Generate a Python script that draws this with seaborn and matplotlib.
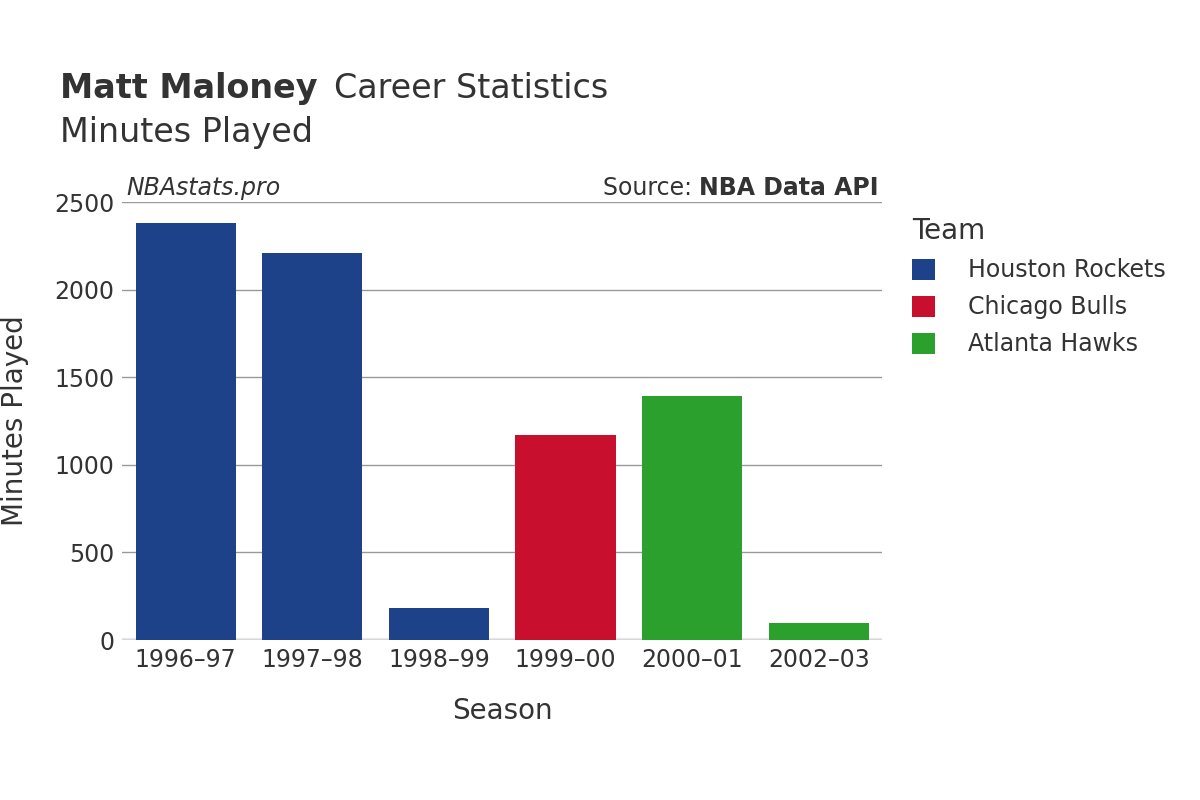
import matplotlib
matplotlib.use("Agg")
import matplotlib.pyplot as plt
import seaborn as sns
import pandas as pd
from matplotlib.patches import Patch

seasons = ["1996–97", "1997–98", "1998–99", "1999–00", "2000–01", "2002–03"]
teams = ["Houston Rockets", "Houston Rockets", "Houston Rockets", "Chicago Bulls", "Atlanta Hawks", "Atlanta Hawks"]
minutes = [2380, 2209, 183, 1170, 1393, 97]
team_order = ["Houston Rockets", "Chicago Bulls", "Atlanta Hawks"]
team_colors = ["#1d428a", "#c8102e", "#2ca02c"]

df = pd.DataFrame({"Season": seasons, "Team": teams, "Minutes": minutes})
palette = dict(zip(team_order, team_colors))

fig = plt.figure(figsize=(12, 8), dpi=100)
ax = fig.add_axes([0.102, 0.2, 0.633, 0.5475])
sns.barplot(data=df, x="Season", y="Minutes", hue="Team", hue_order=team_order,
            palette=palette, dodge=False, width=0.79, ax=ax, legend=False, saturation=1)

ax.set_ylim(0, 2500)
ax.set_yticks([0, 500, 1000, 1500, 2000, 2500])
ax.yaxis.grid(True, color="#999999", linewidth=1)
ax.set_axisbelow(True)
for s in ax.spines.values():
    s.set_visible(False)
ax.axhline(0, color="#e8e8e8", linewidth=3, zorder=0)
ax.tick_params(axis="both", length=0, labelsize=17, colors="#333333", pad=6)
ax.set_xlabel("Season", fontsize=20, color="#333333", labelpad=18)
ax.set_ylabel("Minutes Played", fontsize=20, color="#333333", labelpad=18)

fig.text(0.05, 0.889, "Matt Maloney", fontsize=24, fontweight="bold", color="#333333", va="center")
fig.text(0.278, 0.889, "Career Statistics", fontsize=24, color="#333333", va="center")
fig.text(0.05, 0.834, "Minutes Played", fontsize=24, color="#333333", va="center")
ax.text(0.005, 1.005, "NBAstats.pro", transform=ax.transAxes, fontsize=17, style="italic", color="#333333", va="bottom")
ax.text(0.76, 1.005, "Source: ", transform=ax.transAxes, fontsize=17, color="#333333", va="bottom", ha="right")
ax.text(0.995, 1.005, "NBA Data API", transform=ax.transAxes, fontsize=17, fontweight="bold", color="#333333", va="bottom", ha="right")

handles = [Patch(facecolor=c, label=t) for t, c in zip(team_order, team_colors)]
leg = fig.legend(handles=handles, title="Team", loc="upper left", bbox_to_anchor=(0.742, 0.755),
                 frameon=False, fontsize=17, title_fontsize=20, handlelength=1, handleheight=1,
                 labelspacing=0.55, handletextpad=1.4, labelcolor="#333333")
leg.get_title().set_color("#333333")
leg._legend_box.align = "left"

fig.savefig("out.png", dpi=100)
